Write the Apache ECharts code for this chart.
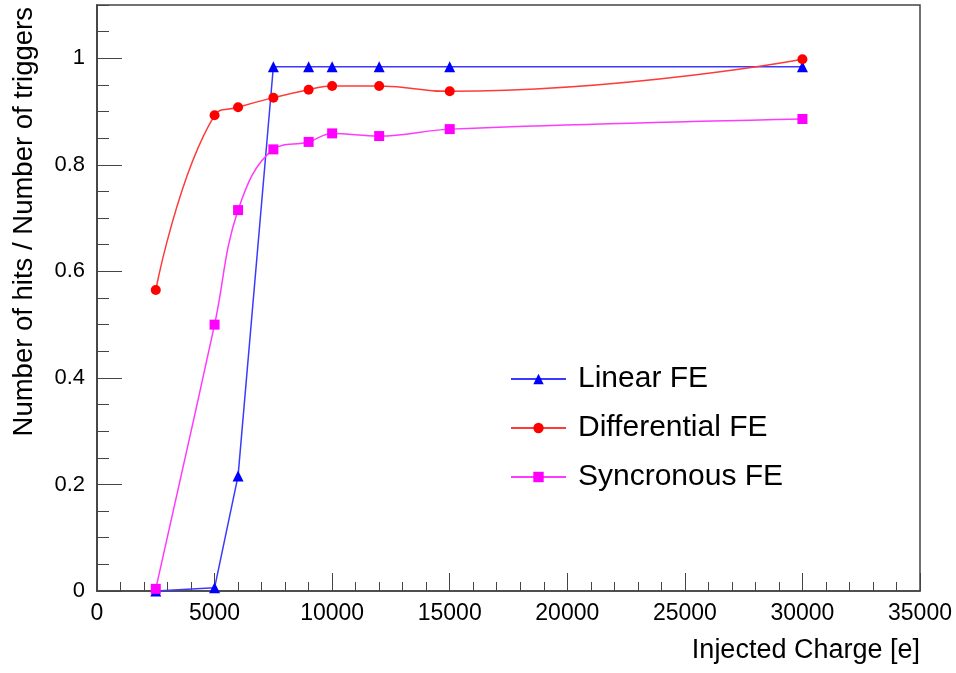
<!DOCTYPE html>
<html>
<head>
<meta charset="utf-8">
<script src="https://cdn.jsdelivr.net/npm/echarts@6/dist/echarts.min.js"></script>
<style>
  html, body { margin: 0; padding: 0; background: #fff; }
  #chart { width: 956px; height: 673px; }
</style>
</head>
<body>
<div id="chart"></div>
<script>
// injected charge points [e]
const charges = [2500, 5000, 6000, 7500, 9000, 10000, 12000, 15000, 30000];
// hits / triggers for each front end
const linearFE = [0, 0.006, 0.216, 0.984, 0.984, 0.984, 0.984, 0.984, 0.984];
const differentialFE = [0.565, 0.893, 0.908, 0.926, 0.941, 0.948, 0.948, 0.938, 0.998];
const syncronousFE = [0.004, 0.5, 0.715, 0.829, 0.843, 0.859, 0.854, 0.867, 0.886];

const seriesNames = ['Linear FE', 'Differential FE', 'Syncronous FE'];

function pairs(ys) {
  return charges.map(function (x, i) { return [x, ys[i]]; });
}

var frame = '#444';
var font = 'Liberation Sans, Arial, sans-serif';
var chart = echarts.init(document.getElementById('chart'));

var option = {
  animation: false,
  backgroundColor: '#fff',
  textStyle: { fontFamily: font },
  grid: {
    left: 97, right: 36, top: 5, bottom: 82,
    show: true, borderColor: frame, borderWidth: 1.5
  },
  legend: {
    orient: 'vertical',
    left: 510, top: 364,
    itemWidth: 55, itemHeight: 13, itemGap: 19,
    padding: 0,
    textStyle: { fontSize: 30, color: '#000', padding: [0, 0, 0, 7] },
    data: seriesNames
  },
  xAxis: {
    type: 'value',
    min: 0, max: 35000, interval: 5000,
    name: 'Injected Charge [e]',
    nameLocation: 'end',
    nameGap: 0,
    nameTextStyle: {
      fontSize: 27, color: '#000', align: 'right', verticalAlign: 'top',
      padding: [46, 0, 0, 0]
    },
    axisLine: { onZero: false, lineStyle: { color: frame, width: 1.5 } },
    axisTick: { inside: true, length: 18, lineStyle: { color: frame } },
    minorTick: { show: true, splitNumber: 5, length: 9, lineStyle: { color: frame } },
    axisLabel: {
      fontSize: 23, color: '#000', margin: 11,
      formatter: function (v) { return String(v); }
    },
    splitLine: { show: false }
  },
  yAxis: [{
    // minor ticks every 0.05
    type: 'value',
    min: 0, max: 1.1, interval: 0.05,
    position: 'left',
    axisLine: { onZero: false, lineStyle: { color: frame, width: 1.5 } },
    axisTick: { inside: true, length: 12, lineStyle: { color: frame } },
    axisLabel: { show: false },
    splitLine: { show: false }
  }, {
    // major ticks + labels
    type: 'value',
    min: 0, max: 1.1, interval: 0.2,
    position: 'left',
    name: 'Number of hits / Number of triggers',
    nameLocation: 'end',
    nameGap: -2,
    nameRotate: 90,
    nameTextStyle: {
      fontSize: 27.5, color: '#000', align: 'right', verticalAlign: 'bottom',
      padding: [0, 0, 59, 0]
    },
    axisLine: { onZero: false, lineStyle: { color: frame, width: 1.5 } },
    axisTick: { inside: true, length: 25, lineStyle: { color: frame } },
    axisLabel: { fontSize: 22, color: '#000', margin: 12, showMaxLabel: false },
    splitLine: { show: false }
  }],
  series: [{
    name: seriesNames[0],
    type: 'line',
    data: pairs(linearFE),
    symbol: 'triangle',
    symbolSize: 11,
    itemStyle: { color: '#0000ff' },
    lineStyle: { color: '#3a3aff', width: 1.5 }
  }, {
    name: seriesNames[1],
    type: 'line',
    smooth: 0.5,
    data: pairs(differentialFE),
    symbol: 'circle',
    symbolSize: 10,
    itemStyle: { color: '#ff0000' },
    lineStyle: { color: '#ff3a3a', width: 1.5 }
  }, {
    name: seriesNames[2],
    type: 'line',
    smooth: 0.4,
    data: pairs(syncronousFE),
    symbol: 'rect',
    symbolSize: 10,
    itemStyle: { color: '#ff00ff' },
    lineStyle: { color: '#ff3aff', width: 1.5 }
  }]
};

chart.setOption(option);
</script>
</body>
</html>
